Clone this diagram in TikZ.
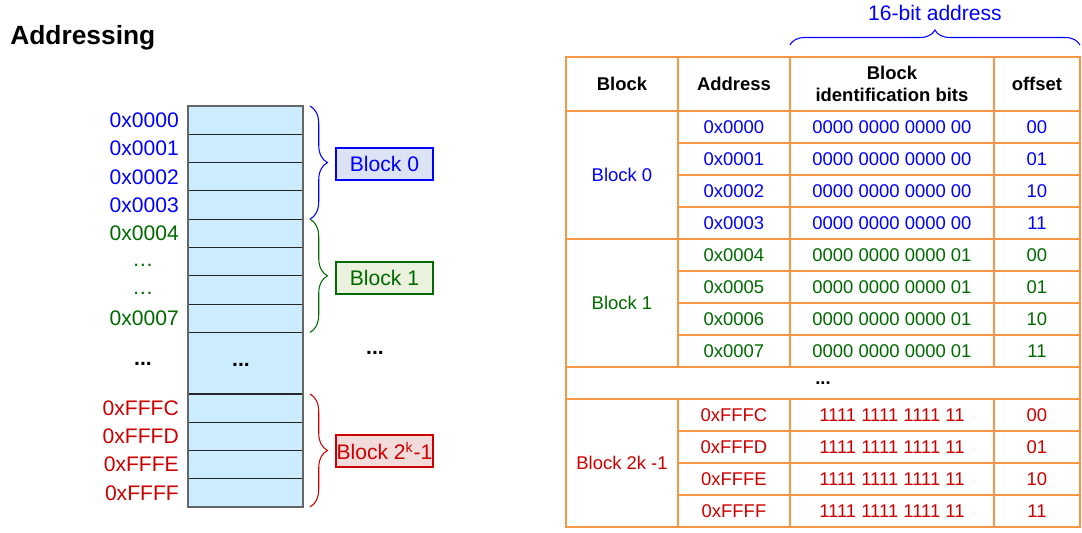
\documentclass[tikz,border=0pt]{standalone}
\usepackage{fontspec}
\setmainfont{Liberation Sans}
\usetikzlibrary{positioning,decorations.pathreplacing,calc}

\definecolor{addrblue}{RGB}{0,0,255}
\definecolor{addrgreen}{RGB}{0,105,0}
\definecolor{addrred}{RGB}{204,0,0}
\definecolor{memfill}{RGB}{204,236,255}
\definecolor{tblorange}{RGB}{247,150,70}
\definecolor{fillblue}{RGB}{219,227,245}
\definecolor{fillgreen}{RGB}{234,241,221}
\definecolor{fillred}{RGB}{242,220,219}

\begin{document}
\begin{tikzpicture}[
    x=0.02cm, y=-0.02cm,
    mem/.style={rectangle, draw=black!85, line width=0.6pt, fill=memfill, minimum width=2.3cm, minimum height=0.566cm, inner sep=0pt, outer sep=0pt, anchor=north west},
    addr/.style={font=\fontsize{12}{14}\selectfont},
    blkbox/.style={rectangle, draw, line width=0.6pt, minimum width=1.94cm, minimum height=0.64cm, inner sep=0pt, font=\fontsize{12}{14}\selectfont},
    curly/.style={decorate, decoration={brace, amplitude=0.35cm}, line width=0.6pt},
    tcell/.style={rectangle, draw=tblorange, line width=0.85pt, inner sep=0pt, outer sep=0pt, minimum height=0.64cm, anchor=north west, font=\fontsize{10.5}{12.5}\selectfont},
    thead/.style={tcell, minimum height=1.08cm, font=\fontsize{10.5}{12.5}\selectfont\bfseries, align=center}
]
    \useasboundingbox (0,0) rectangle (1082,533);

    \node[anchor=base west, inner sep=0pt, font=\fontsize{15}{18}\selectfont\bfseries] (title) at (10,45) {Addressing};

    % memory column
    \foreach \r in {0,...,7}
        \node[mem] (mem\r) at (188,{106+28.3*\r}) {};
    \node[mem, minimum height=1.234cm] (memgap) at (188,332.4) {};
    \foreach \r/\n in {0/c,1/d,2/e,3/f}
        \node[mem] (mem\n) at (188,{394+28.2*\r}) {};
    \draw[line width=0.9pt, black!60] (mem0.north west) rectangle (memf.south east);

    \foreach \n/\txt/\col in {0/0x0000/addrblue, 1/0x0001/addrblue, 2/0x0002/addrblue, 3/0x0003/addrblue,
                              4/0x0004/addrgreen, 7/0x0007/addrgreen,
                              c/0xFFFC/addrred, d/0xFFFD/addrred, e/0xFFFE/addrred, f/0xFFFF/addrred}
        \node[addr, text=\col, left=0.06cm of mem\n] (lab\n) {\txt};
    \node[addr, text=addrgreen] (lab5) at (143,265) {\ldots};
    \node[addr, text=addrgreen] (lab6) at (143,293) {\ldots};
    \node[addr] (labgap) at (143,364) {\textbf{...}};
    \node[addr] (memdots) at (241,365) {\textbf{...}};
    \node[addr] (blkgap) at (375,353) {\textbf{...}};

    % braces and block names
    \draw[curly, addrblue] ([xshift=0.14cm]mem0.north east) -- ([xshift=0.14cm]mem3.south east);
    \draw[curly, addrgreen] ([xshift=0.14cm]mem4.north east) -- ([xshift=0.14cm]mem7.south east);
    \draw[curly, addrred] ([xshift=0.14cm]memc.north east) -- ([xshift=0.14cm]memf.south east);
    \node[blkbox, draw=addrblue, fill=fillblue, text=addrblue] (name0) at (384.5,164) {Block 0};
    \node[blkbox, draw=addrgreen, fill=fillgreen, text=addrgreen] (name1) at (384.5,278) {Block 1};
    \node[blkbox, draw=addrred, fill=fillred, text=addrred] (namek) at (384.5,451) {Block 2\textsuperscript{k}-1};

    % table
    \node[thead, minimum width=2.24cm] (hblock) at (566,57) {Block};
    \node[thead, minimum width=2.24cm, right=0pt of hblock] (haddr) {Address};
    \node[thead, minimum width=4.08cm, right=0pt of haddr] (hbits) {Block\\identification bits};
    \node[thead, minimum width=1.72cm, right=0pt of hbits] (hoff) {offset};

    \node[tcell, minimum width=2.24cm, minimum height=2.56cm, text=addrblue] (tblk0) at (566,111) {Block 0};
    \node[tcell, minimum width=2.24cm, minimum height=2.56cm, text=addrgreen] (tblk1) at (566,239) {Block 1};
    \node[tcell, minimum width=10.28cm] (tgap) at (566,367) {\textbf{...}};
    \node[tcell, minimum width=2.24cm, minimum height=2.56cm, text=addrred] (tblkk) at (566,399) {Block 2k -1};

    \foreach \r/\ad/\bits/\off/\col in {
        0/0x0000/0000 0000 0000 00/00/addrblue, 1/0x0001/0000 0000 0000 00/01/addrblue,
        2/0x0002/0000 0000 0000 00/10/addrblue, 3/0x0003/0000 0000 0000 00/11/addrblue,
        4/0x0004/0000 0000 0000 01/00/addrgreen, 5/0x0005/0000 0000 0000 01/01/addrgreen,
        6/0x0006/0000 0000 0000 01/10/addrgreen, 7/0x0007/0000 0000 0000 01/11/addrgreen,
        9/0xFFFC/1111 1111 1111 11/00/addrred, 10/0xFFFD/1111 1111 1111 11/01/addrred,
        11/0xFFFE/1111 1111 1111 11/10/addrred, 12/0xFFFF/1111 1111 1111 11/11/addrred}{
        \node[tcell, minimum width=2.24cm, text=\col] (ad\r) at (678,{111+32*\r}) {\ad};
        \node[tcell, minimum width=4.08cm, text=\col, right=0pt of ad\r] (bits\r) {\bits};
        \node[tcell, minimum width=1.72cm, text=\col, right=0pt of bits\r] (off\r) {\off};
    }

    \draw[decorate, decoration={brace, amplitude=0.3cm}, line width=0.6pt, addrblue]
        ([yshift=0.24cm]hbits.north west) -- ([yshift=0.24cm]hoff.north east);
    \node[anchor=base, text=addrblue, font=\fontsize{12}{14}\selectfont] (width) at (935,21) {16-bit address};
\end{tikzpicture}
\end{document}
